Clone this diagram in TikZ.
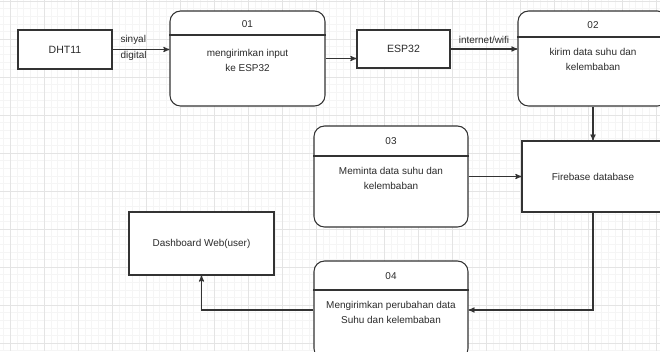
\documentclass[tikz,border=0pt]{standalone}
\usepackage{fontspec}
\setmainfont{Liberation Sans}
\usetikzlibrary{arrows}

\definecolor{linegray}{HTML}{333333}
\definecolor{textgray}{HTML}{2B2B2B}
\definecolor{gridminor}{HTML}{F5F5F5}
\definecolor{gridmajor}{HTML}{E4E4E4}

\begin{document}
\begin{tikzpicture}[x=0.03cm,y=-0.03cm,->,>=stealth',line width=0.9pt,draw=linegray,
  box/.style={rectangle,draw=linegray,fill=white,text=textgray,inner sep=0pt,
    font=\fontsize{9}{11}\selectfont},
  proc/.style={box,rounded corners=9pt},
  txt/.style={text=textgray,inner sep=0pt,align=center,font=\fontsize{8.5}{12.5}\selectfont},
  divider/.style={-,draw=linegray,line width=0.9pt},
  gridmin/.style={-,draw=gridminor,line width=0.4pt},
  gridmaj/.style={-,draw=gridmajor,line width=0.6pt}]

  \useasboundingbox (0,0) rectangle (660,351);
  \clip (0,0) rectangle (660,351);

  % background grid
  \foreach \i in {0,...,100}
    \draw[gridmin] ({3.2+6.8*\i},0) -- ++(0,351);
  \foreach \i in {0,...,47}
    \draw[gridmin] (0,{1+7.6*\i}) -- ++(660,0);
  \foreach \i in {0,...,20}
    \draw[gridmaj] ({10+34*\i},0) -- ++(0,351);
  \foreach \i in {0,...,10}
    \draw[gridmaj] (0,{1+38*\i}) -- ++(660,0);

  % boxes
  \node[box,minimum width=2.82cm,minimum height=1.17cm] (dht) at (65,49.5) {DHT11};
  \node[box,minimum width=2.79cm,minimum height=1.14cm] (esp) at (403.5,49) {ESP32};
  \node[box,minimum width=4.26cm,minimum height=2.13cm,font=\fontsize{8.5}{10}\selectfont]
    (fb) at (593,176.5) {Firebase database};
  \node[box,minimum width=4.35cm,minimum height=1.89cm,font=\fontsize{8.5}{10}\selectfont]
    (dash) at (201.5,243.5) {Dashboard Web(user)};

  % processes
  \node[proc,minimum width=4.65cm,minimum height=2.85cm] (p1) at (247.5,58.5) {};
  \draw[divider] (p1.west |- 0,35) -- (p1.east |- 0,35);
  \node[txt] (p1h) at (247.5,24) {01};
  \node[txt] (p1t) at (247.5,60.5) {mengirimkan input\\ke ESP32};

  \node[proc,minimum width=4.5cm,minimum height=2.85cm] (p2) at (593,58.5) {};
  \draw[divider] (p2.west |- 0,37) -- (p2.east |- 0,37);
  \node[txt] (p2h) at (593,25) {02};
  \node[txt] (p2t) at (593,59.5) {kirim data suhu dan\\kelembaban};

  \node[proc,minimum width=4.62cm,minimum height=3.03cm] (p3) at (391,176.5) {};
  \draw[divider] (p3.west |- 0,156) -- (p3.east |- 0,156);
  \node[txt] (p3h) at (391,141) {03};
  \node[txt] (p3t) at (391,178.5) {Meminta data suhu dan\\kelembaban};

  \node[proc,minimum width=4.62cm,minimum height=2.94cm] (p4) at (391,310) {};
  \draw[divider] (p4.west |- 0,290) -- (p4.east |- 0,290);
  \node[txt] (p4h) at (391,276) {04};
  \node[txt] (p4t) at (391,312.5) {Mengirimkan perubahan data\\Suhu dan kelembaban};

  % flows
  \draw (dht.east) -- (dht.east -| p1.west);
  \node[txt,anchor=west,align=left,font=\fontsize{8.5}{13.5}\selectfont] (sig) at (120,48) {sinyal\\digital};
  \draw (p1.east) -- (p1.east -| esp.west);
  \draw (esp.east) -- (esp.east -| p2.west);
  \node[txt] (wifi) at (484,40) {internet/wifi};
  \draw (p2.south) -- (fb.north);
  \draw (p3.east) -- (fb.west);
  \draw (fb.south) |- (p4.east);
  \draw (p4.west) -| (dash.south);
\end{tikzpicture}
\end{document}
